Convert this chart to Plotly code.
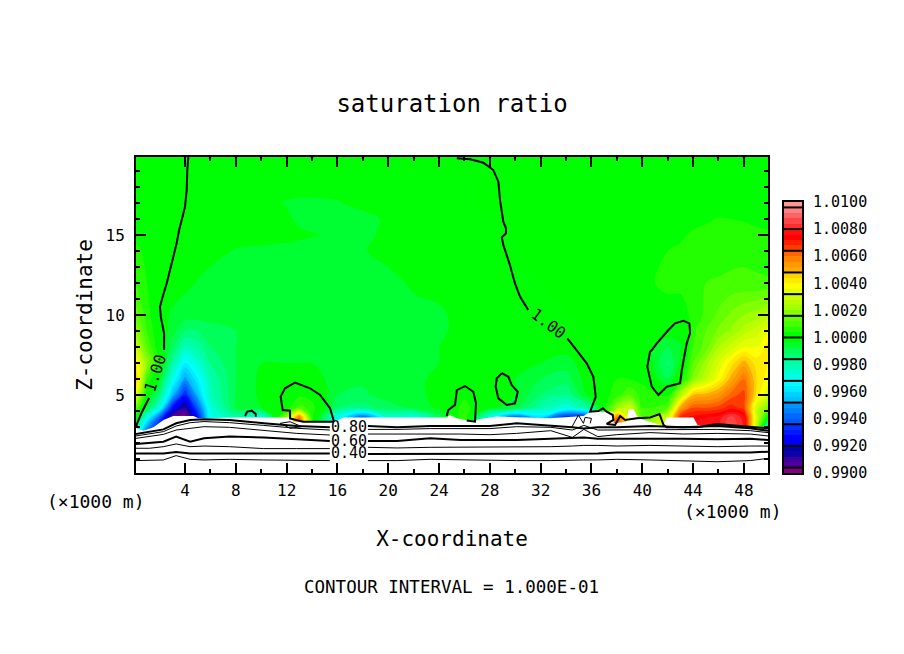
import numpy as np
import plotly.graph_objects as go

TITLE = "saturation ratio"
CAPTION = "CONTOUR INTERVAL = 1.000E-01"
X_TITLE = "X-coordinate"
Z_TITLE = "Z-coordinate"
X_TICKS = [4, 8, 12, 16, 20, 24, 28, 32, 36, 40, 44, 48]
Z_TICKS = [5, 10, 15]
BAR_TICKS = [0.99, 0.992, 0.994, 0.996, 0.998, 1.0, 1.002, 1.004, 1.006, 1.008, 1.01]
BAR_LINES = [0.9904, 0.992, 0.9936, 0.9952, 0.9968, 0.9984, 1.0, 1.0016, 1.0032, 1.0048, 1.0064, 1.008, 1.0096]
LEVEL_START, LEVEL_END, LEVEL_SIZE = 0.99, 1.01, 0.0004

BAND_COLORS = [
    "rgb(128,0,128)",
    "rgb(80,0,150)", "rgb(60,0,160)", "rgb(15,0,165)", "rgb(0,0,175)",
    "rgb(0,0,240)", "rgb(0,0,255)", "rgb(0,25,255)", "rgb(0,50,255)",
    "rgb(0,85,255)", "rgb(0,105,255)", "rgb(0,130,255)", "rgb(0,150,255)",
    "rgb(0,190,255)", "rgb(0,210,255)", "rgb(0,235,255)", "rgb(0,255,255)",
    "rgb(0,255,235)", "rgb(0,255,210)", "rgb(0,255,185)", "rgb(0,255,160)",
    "rgb(0,255,125)", "rgb(0,255,90)", "rgb(0,255,50)", "rgb(0,255,5)",
    "rgb(0,255,0)", "rgb(35,255,0)", "rgb(70,255,0)", "rgb(100,255,0)",
    "rgb(130,255,0)", "rgb(160,255,0)", "rgb(185,255,0)", "rgb(205,255,0)",
    "rgb(225,255,0)", "rgb(255,255,0)", "rgb(255,235,0)", "rgb(255,210,0)",
    "rgb(255,170,0)", "rgb(255,150,0)", "rgb(255,130,0)", "rgb(255,100,0)",
    "rgb(255,60,0)", "rgb(255,30,0)", "rgb(255,0,0)", "rgb(255,15,15)",
    "rgb(255,45,45)", "rgb(255,70,70)", "rgb(255,100,100)", "rgb(255,130,130)",
    "rgb(255,150,150)",
]

field_x = [0.14, 1, 2, 3, 4, 5, 6, 8, 10, 12, 13, 14, 16, 18, 20, 22, 24, 26, 28, 30, 32, 34, 36, 38, 39, 40, 42, 43, 44, 45, 46, 47, 48, 49, 49.9]
field_z = [2.8, 3.6, 4.2, 5, 6, 7, 8, 9, 10, 12, 14, 15, 16, 17, 18, 19.9]
row_2p8 = [-20,-55,-80,-98,-99,-80,-40, -30,-30,20,70,10, -40,-70,-30,-40,-10, 10,-40,-70,-50,-80, -70,80,40,15,40, 80,80,80,80,90, 80,25,-40]
row_3p6 = [2,-30,-60,-95,-99,-72,-30, -20,-30,20,60,5, -30,-60,-25,-30,-10, 8,-30,-60,-40,-70, -60,60,30,12,30, 70,74,76,78,86, 78,30,0]
row_4p2 = [14,-8,-30,-72,-88,-60,-28, -8,-4,2,10,6, -12,-14,-10,-7,-3, 6,-3,-7,-20,-28, -15,20,30,8,12, 52,64,64,66,70, 66,30,16]
row_5 = [35,0,-14,-45,-70,-45,-22, -8,-3,-2,3,2, -8,-9,-6,-5,-3, 3,-2,-4,-12,-16, -1,6,12,6,3, 25,48,50,54,62, 66,42,32]
row_6 = [48,8,-4,-30,-50,-36,-20, -8,-3,-3,-2,-2, -6,-7,-5,-5,-3, 0,-1,-4,-8,-10, 0,4,4,3,-8, 1,18,28,38,50, 60,44,38]
row_7 = [40,20,2,-18,-36,-26,-16, -8,-4,-4,-4,-4, -5,-6,-5,-5,-4, -2,-2,-3,-4,-6, 0,3,3,2,-13, -3,12,22,32,42, 50,42,40]
row_8 = [28,12,0,-10,-22,-18,-12, -8,-5,-5,-5,-5, -5,-5,-5,-5,-4, -3,-3,-3,-4,-2, 0,2,2,0,-8, -5,8,14,24,30, 36,36,42]
row_9 = [20,8,0,-6,-12,-12,-10, -8,-5,-5,-5,-5, -5,-5,-5,-5,-4.5, -3,-3,-3,-2,-1, 0,1,2,3,-1, -1,7,12,17,21, 26,30,36]
row_10 = [14,6,-1,-5,-6,-6,-6, -6,-5,-5,-5,-5, -5,-5,-5,-5,-4.5, -3,-2,-2,-1,0, 1,1,2,3,2, 2,5,9,13,17, 20,22,26]
row_12 = [8,4,1,-1,-3,-4.2,-5, -5,-5,-5,-5,-5, -5,-5,-5,-3.5,-3, -2,-2,-1,0,1, 1,1,2,3,5, 5,7,8,8.5,9, 9,8.5,8.5]
row_14 = [5,3,2,1,0,-2,-3, -4.2,-4.5,-5,-5,-5, -5,-4.2,-3,-2,-2, -1,-1,0,1,1, 1,1,2,2,4, 4.5,5,5.5,6,6.5, 7,7,6]
row_15 = [3,2,2,1,0,-2,-2, -3,-3,-3,-3.5,-3.8, -4.4,-4.2,-3.8,-2,-2, -1,-1,0,1,1, 1,2,2,2,2.5, 3.5,4.5,5,5.5,5.5, 5,5,4.5]
row_16 = [2,2,2,2,1,-1,-2, -3,-3,-3.5,-4.5,-5, -5,-5,-3.5,-2,-2, -2,-1,1,2,2, 2,2,2,2,2, 3,3,3.5,4.2,4, 3.8,3,3]
row_17 = [2,2,2,2,1,-1,-2, -2,-3,-4.2,-4.5,-4.5, -4.2,-3,-2,-2,-2, -1,1,2,2,2, 2,2,2,2,2, 2,2,2,2,2, 2,2,2]
row_18 = [2,2,2,2,1,-1,-2, -2,-2,-3,-3,-3, -3,-2,-2,-2,-2, -1,1,2,2,2, 2,2,2,2,2, 2,2,2,2,2, 2,2,2]
row_19p9 = [2,2,2,2,1,-1,-2, -2,-2,-2,-2,-2, -2,-2,-2,-2,-2, -1,1,2,2,2, 2,2,2,2,2, 2,2,2,2,2, 2,2,2]
field_rows = [row_2p8, row_3p6, row_4p2, row_5, row_6, row_7, row_8, row_9, row_10, row_12, row_14, row_15, row_16, row_17, row_18, row_19p9]

# Upper edge of the white (unfilled) area
terrain_x = [0.14, 0.2, 0.72, 1.51, 2.3, 3.08, 4.66, 5.05, 8.07, 12.27, 12.53, 15.8, 16.47, 22.25, 24.6, 24.87, 25.4, 26.7, 27.1, 28.55, 32.75, 35.37, 35.9, 37.68, 37.73, 38.78, 38.9, 39.3, 39.57, 39.7, 41.67, 41.9, 44.03, 44.35, 45.87, 49.8, 49.9]
terrain_z = [2.92, 2.92, 2.77, 2.98, 3.44, 3.69, 3.69, 3.54, 3.6, 3.6, 3.33, 3.33, 3.6, 3.6, 3.6, 3.75, 3.54, 3.33, 3.48, 3.65, 3.54, 3.69, 3.96, 3.96, 3.23, 3.33, 4.06, 4.13, 3.75, 3.54, 3.06, 3.6, 3.6, 3.13, 3.06, 2.92, 2.92]

# Low-level contours, sharing one x list (None = break for the in-line labels)
layer_x = [0.14, 1.2, 2.3, 3.3, 4.4, 5.5, 7.5, 10.2, 12.8, 15.4, None, 18.4, 20.7, 23.3, 25.7, 28.0, 30.1, 32.8, 34.5, 35.4, 36.5, 38, 40.6, 43.2, 45.9, 48.5, 49.9]
layer_080 = [2.56, 2.71, 2.85, 3.23, 3.44, 3.48, 3.44, 3.23, 3.06, 2.98, None, 3.06, 2.98, 3.06, 3.06, 3.06, 3.23, 3.10, 2.98, 2.90, 2.98, 2.98, 3.06, 2.98, 3.06, 2.92, 2.77]
layer_075 = [2.44, 2.56, 2.71, 3.06, 3.27, 3.34, 3.27, 3.10, 2.92, 2.81, None, 2.85, 2.85, 2.90, 2.90, 2.90, 3.02, 2.98, 2.81, 3.10, 2.81, 2.81, 2.85, 2.81, 2.85, 2.77, 2.65]
layer_070 = [2.29, 2.40, 2.54, 2.81, 2.92, 3.02, 2.98, 2.77, 2.60, 2.50, None, 2.56, 2.56, 2.60, 2.56, 2.52, 2.60, 2.77, 2.35, 2.85, 2.40, 2.52, 2.65, 2.56, 2.60, 2.56, 2.44]
layer_060 = [1.94, 2.02, 2.08, 2.40, 2.08, 2.29, 2.40, 2.35, 2.23, 2.13, None, 2.13, 2.13, 2.29, 2.19, 2.19, 2.19, 2.27, 2.31, 2.35, 2.27, 2.27, 2.29, 2.27, 2.23, 2.27, 2.19]
layer_050 = [1.67, 1.67, 1.77, 1.94, 1.77, 1.81, 1.77, 1.65, 1.65, 1.65, None, 1.73, 1.69, 1.73, 1.73, 1.73, 1.77, 1.77, 1.81, 1.85, 1.85, 1.81, 1.85, 1.81, 1.77, 1.81, 1.81]
layer_040 = [1.35, 1.35, 1.35, 1.44, 1.35, 1.35, 1.35, 1.35, 1.35, 1.35, None, 1.31, 1.31, 1.31, 1.31, 1.35, 1.35, 1.35, 1.35, 1.35, 1.35, 1.40, 1.40, 1.40, 1.40, 1.40, 1.46]
layer_030 = [0.90, 0.90, 0.94, 1.21, 0.98, 0.94, 0.98, 0.94, 0.90, 0.90, None, 0.90, 0.90, 0.98, 0.94, 0.90, 0.90, 0.90, 0.94, 0.94, 0.94, 0.98, 0.94, 0.90, 0.83, 0.90, 1.04]

# The 1.00 contour pieces (km)
c100_left_x = [4.26, 4.18, 4.13, 4.0, 3.74, 3.53, 3.34, 3.08, 2.87, 2.56, 2.24, 2.03, 2.09, 2.35, 2.35, None, 1.17, 0.61, 0.24, 0.14]
c100_left_z = [19.87, 19.06, 17.8, 16.77, 15.94, 15.3, 14.48, 13.64, 12.8, 11.98, 11.14, 10.52, 9.9, 8.86, 7.81, None, 4.81, 3.94, 3.25, 3.0]
c100_mid_x = [25.4, 26.44, 27.49, 28.27, 28.67, 28.8, 29.06, 29.27, 29.27, 28.94, 29.06, 29.54, 29.98, 30.38, 31.03, None, 34.1, 34.84, 35.63, 36.15, 36.34, 35.89, 36.55, 36.9, 37.2, 37.68, 37.73, 37.2, 37.86, 38.26, 38.65, 39.57, 40.62, 41.36, 41.67, 41.93, 44.3, 45.87, 47.97, 49.8, 49.9]
c100_mid_z = [19.8, 19.73, 19.52, 19.06, 18.33, 17.19, 15.83, 15.42, 15.1, 14.85, 14.38, 13.23, 11.98, 11.14, 10.31, None, 8.54, 7.81, 6.98, 6.14, 4.89, 3.96, 4.0, 4.17, 3.96, 3.75, 3.44, 3.19, 3.13, 3.69, 3.44, 3.54, 3.6, 3.81, 3.13, 2.98, 2.98, 3.19, 3.06, 2.92, 2.92]
c100_loop41_x = [40.75, 41.15, 42.06, 42.58, 43.24, 43.71, 43.76, 43.5, 43.11, 42.98, 41.93, 41.27, 40.75, 40.4, 40.61, 40.75]
c100_loop41_z = [7.81, 8.23, 9.06, 9.48, 9.64, 9.48, 8.86, 8.23, 6.56, 5.73, 5.52, 5.0, 5.52, 6.77, 7.7, 7.81]
c100_loop29_x = [28.94, 29.46, 29.72, 30.2, 29.98, 29.33, 28.67, 28.46, 28.54, 28.94]
c100_loop29_z = [6.36, 6.14, 5.62, 5.2, 4.48, 4.38, 4.79, 5.52, 6.04, 6.36]
c100_loop26_x = [24.6, 24.73, 25.26, 25.4, 26.05, 26.7, 26.91, 26.83, 26.18]
c100_loop26_z = [3.69, 4.06, 4.38, 5.31, 5.56, 5.2, 4.48, 3.33, 3.4]
c100_loop14_x = [15.73, 15.42, 14.63, 13.84, 12.66, 11.87, 11.53, 11.69, 12.27, 12.27, 13.29, 15.73]
c100_loop14_z = [3.33, 4.17, 5.0, 5.42, 5.77, 5.42, 4.9, 4.06, 4.02, 3.54, 3.33, 3.33]
c100_loop9_x = [8.72, 8.9, 9.25, 9.57, 9.57]
c100_loop9_z = [3.69, 3.96, 4.02, 3.81, 3.64]
thin_lens_x = [11.5, 12.27, 13.2, 12.27, 11.5]
thin_lens_z = [3.23, 3.33, 3.02, 2.92, 3.23]
thin_curl_x = [34.45, 34.97, 35.37, 35.5, 36.0, 35.9]
thin_curl_z = [2.98, 3.75, 3.23, 3.6, 3.54, 3.23]

ratio = 1 + np.array(field_rows) * 1e-4
n_bands = len(BAND_COLORS)
colorscale = []
for i, c in enumerate(BAND_COLORS):
    colorscale += [[i / n_bands, c], [(i + 1) / n_bands, c]]

W, H = 904, 654
fig = go.Figure()
fig.add_trace(go.Contour(
    x=field_x, y=field_z, z=ratio, colorscale=colorscale, zmin=LEVEL_START, zmax=LEVEL_END,
    autocontour=False, contours=dict(start=LEVEL_START, end=LEVEL_END, size=LEVEL_SIZE, coloring="fill", showlines=False),
    line=dict(width=0), showscale=False, hoverinfo="skip"))
fig.add_trace(go.Scatter(x=terrain_x, y=terrain_z, mode="lines", line=dict(width=0, color="white"),
                         fill="tozeroy", fillcolor="white", hoverinfo="skip"))

thick = [(layer_x, layer_080), (layer_x, layer_060), (layer_x, layer_040),
         (c100_left_x, c100_left_z), (c100_mid_x, c100_mid_z), (c100_loop41_x, c100_loop41_z),
         (c100_loop29_x, c100_loop29_z), (c100_loop26_x, c100_loop26_z), (c100_loop14_x, c100_loop14_z),
         (c100_loop9_x, c100_loop9_z)]
thin = [(layer_x, layer_075), (layer_x, layer_070), (layer_x, layer_050), (layer_x, layer_030),
        (thin_lens_x, thin_lens_z), (thin_curl_x, thin_curl_z)]
for xs, zs in thin:
    fig.add_trace(go.Scatter(x=xs, y=zs, mode="lines", line=dict(color="black", width=1), hoverinfo="skip"))
for xs, zs in thick:
    fig.add_trace(go.Scatter(x=xs, y=zs, mode="lines", line=dict(color="black", width=2), hoverinfo="skip"))

# Colour key as its own small axes
bar_edges = [LEVEL_START + i * LEVEL_SIZE for i in range(n_bands + 1)]
bar_mids = [[LEVEL_START + (i + 0.5) * LEVEL_SIZE] for i in range(n_bands)]
fig.add_trace(go.Heatmap(x=[0, 1], y=bar_edges, z=bar_mids, xaxis="x2", yaxis="y2", colorscale=colorscale,
                         zmin=LEVEL_START, zmax=LEVEL_END, showscale=False, hoverinfo="skip"))
sep_x, sep_y = [], []
for v in BAR_LINES:
    sep_x += [0, 1, None]
    sep_y += [v, v, None]
fig.add_trace(go.Scatter(x=sep_x, y=sep_y, xaxis="x2", yaxis="y2", mode="lines",
                         line=dict(color="black", width=2), hoverinfo="skip"))

MONO = "DejaVu Sans Mono"
def note(text, x, y, size, xref="paper", yref="paper", angle=0):
    fig.add_annotation(text=text, x=x, y=y, xref=xref, yref=yref, showarrow=False, textangle=angle,
                       font=dict(family=MONO, size=size, color="black"), borderpad=0,
                       xanchor="center", yanchor="middle")

note("(×1000 m)", 96 / W, 1 - 501 / H, 18)
note("(×1000 m)", 733 / W, 1 - 511 / H, 18)
note(CAPTION, 451 / W, 1 - 587 / H, 17.5)
note("0.80", 16.9, 3.02, 15, "x", "y")
note("0.60", 16.9, 2.13, 15, "x", "y")
note("0.40", 16.9, 1.36, 15, "x", "y")
note("1.00", 1.64, 6.35, 16, "x", "y", angle=-72)
note("1.00", 32.6, 9.45, 16, "x", "y", angle=37)

axis_common = dict(showgrid=False, zeroline=False, showline=True, linecolor="black", linewidth=2,
                   mirror="ticks", ticks="inside", tickcolor="black", tickwidth=2,
                   tickfont=dict(family=MONO, size=16, color="black"), title_font=dict(family=MONO, size=21, color="black"))
fig.update_layout(
    width=W, height=H, margin=dict(l=0, r=0, t=0, b=0, autoexpand=False), paper_bgcolor="white", plot_bgcolor="white",
    showlegend=False,
    title=dict(text=TITLE, x=452 / W, xanchor="center", y=1 - 104 / H, yanchor="middle",
               font=dict(family=MONO, size=24, color="black")),
    xaxis=dict(domain=[136 / W, 768 / W], range=[0.14, 49.9], tickvals=X_TICKS, ticklen=10, ticklabelstandoff=2,
               minor=dict(tickvals=[v + 2 for v in [-4] + X_TICKS], ticks="inside", ticklen=4, tickcolor="black", tickwidth=1.5),
               title=dict(text=X_TITLE, standoff=32), **axis_common),
    yaxis=dict(domain=[1 - 473 / H, 1 - 157 / H], range=[0.125, 19.875], tickvals=Z_TICKS, ticklen=10, ticklabelstandoff=6,
               minor=dict(tickvals=[1, 2, 3, 4, 6, 7, 8, 9, 11, 12, 13, 14, 16, 17, 18, 19], ticks="inside", ticklen=4, tickcolor="black", tickwidth=1.5),
               title=dict(text=Z_TITLE, standoff=7), **axis_common),
    xaxis2=dict(domain=[784 / W, 802 / W], range=[0, 1], anchor="y2", showticklabels=False, ticks="", showgrid=False,
                zeroline=False, showline=True, linecolor="black", linewidth=2, mirror=True),
    yaxis2=dict(domain=[1 - 473 / H, 1 - 202 / H], range=[LEVEL_START, LEVEL_END], anchor="x2", side="right",
                tickvals=BAR_TICKS, tickformat=".4f", ticks="", showgrid=False, zeroline=False, showline=True,
                linecolor="black", linewidth=2, mirror=True, ticklabelstandoff=6,
                tickfont=dict(family=MONO, size=15, color="black")),
)
fig.write_html("out.html", config={"displayModeBar": False}, post_script="document.body.style.margin='0';")
